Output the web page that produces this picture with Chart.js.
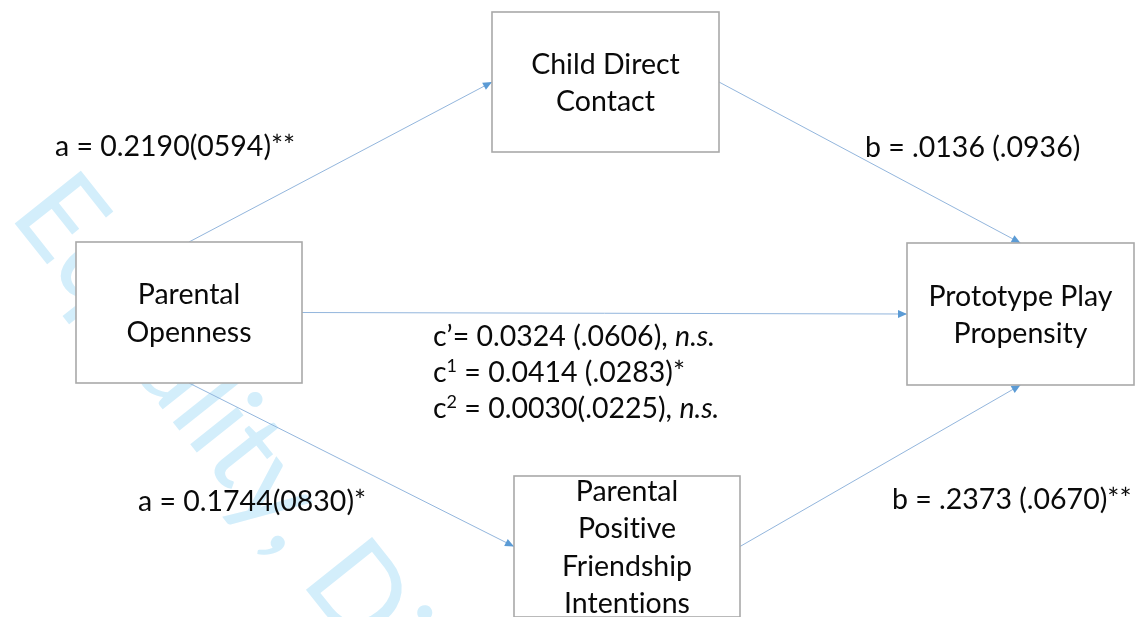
<!DOCTYPE html>
<html>
<head>
<meta charset="utf-8">
<title>Mediation model: Parental Openness and Prototype Play Propensity</title>
<script src="https://cdn.jsdelivr.net/npm/chart.js@4.4.1/dist/chart.umd.min.js"></script>
<style>
  html, body { margin: 0; padding: 0; background: #ffffff; }
  canvas { display: block; }
</style>
</head>
<body>
<canvas id="model" width="1141" height="617"></canvas>
<script>
// ---- Variables of the mediation model ----
const nodeLines = [
  ['Parental', 'Openness'],
  ['Child Direct', 'Contact'],
  ['Prototype Play', 'Propensity'],
  ['Parental', 'Positive', 'Friendship', 'Intentions']
];

// Box extents in diagram units: [left, top, right, bottom]
const nodeBoxes = [
  [76, 242, 302, 383],
  [492, 12, 719, 152],
  [907, 243, 1134, 385],
  [514, 476, 740, 617]
];

// ---- Paths (from -> to) and the box sides they leave / enter ----
const pathFrom  = [0, 1, 0, 0, 3];
const pathTo    = [1, 2, 2, 3, 2];
const exitSide  = ['top', 'right', 'right', 'bottom', 'right'];
const entrySide = ['left', 'top', 'left', 'left', 'bottom'];

// ---- Indirect-path coefficients, estimate (SE) ----
const indirectLabels = [
  'a = 0.2190(0594)**',
  'b = .0136 (.0936)',
  'a = 0.1744(0830)*',
  'b = .2373 (.0670)**'
];
// anchor of each label: [left x, baseline y]
const indirectAnchors = [[55, 156], [865, 157], [138, 511], [892, 509]];

// ---- Direct-effect coefficients c', c1, c2 ----
const directMarks     = ['\u2019', '1', '2'];
const directEstimates = ['0.0324 (.0606)', '0.0414 (.0283)*', '0.0030(.0225)'];
const directSig       = ['n.s.', '', 'n.s.'];
const directAnchor    = [433, 346];
const directLineStep  = 36;

// ---- Styling ----
const FONT = 'Lato, "Open Sans", sans-serif';
const FONT_SIZE = 28.5;
const TEXT_COLOR = '#0a0a0a';
const PATH_COLOR = '#93b6dd';
const HEAD_COLOR = '#5b9bd5';
const BOX_STROKE = '#a9a9a9';
const LINE_STEP = 37.5;

// keep "t" and "i" as separate glyphs (no ligature)
const plain = s => s.replace(/ti/g, 't\u200Ci').replace(/fi/g, 'f\u200Ci');

function sidePoint(box, side) {
  const [l, t, r, b] = box;
  const cx = (l + r) / 2, cy = (t + b) / 2;
  if (side === 'top') return { x: cx, y: t };
  if (side === 'bottom') return { x: cx, y: b };
  if (side === 'left') return { x: l, y: cy };
  return { x: r, y: cy };
}

const pathDatasets = pathFrom.map((f, i) => ({
  type: 'line',
  label: nodeLines[f].join(' ') + ' \u2192 ' + nodeLines[pathTo[i]].join(' '),
  data: [sidePoint(nodeBoxes[f], exitSide[i]), sidePoint(nodeBoxes[pathTo[i]], entrySide[i])],
  borderColor: PATH_COLOR,
  borderWidth: 1,
  pointRadius: 0,
  fill: false,
  tension: 0
}));

// White page with the faint diagonal watermark behind the diagram
const backdrop = {
  id: 'backdrop',
  beforeDraw(chart) {
    const { ctx, scales: { x, y } } = chart;
    ctx.save();
    ctx.fillStyle = '#ffffff';
    ctx.fillRect(0, 0, chart.width, chart.height);
    ctx.translate(x.getPixelForValue(8), y.getPixelForValue(215));
    ctx.rotate(51.5 * Math.PI / 180);
    ctx.fillStyle = '#d3eefb';
    ctx.font = '118px ' + FONT;
    ctx.textBaseline = 'alphabetic';
    ctx.fillText(plain('Equality, Diversity and Inclusion'), 0, 0);
    ctx.restore();
  }
};

// Arrow heads at the end of every path
const arrowHeads = {
  id: 'arrowHeads',
  afterDatasetsDraw(chart) {
    const ctx = chart.ctx;
    chart.data.datasets.forEach((ds, i) => {
      const pts = chart.getDatasetMeta(i).data;
      if (pts.length < 2) return;
      const a = pts[pts.length - 2], b = pts[pts.length - 1];
      const ang = Math.atan2(b.y - a.y, b.x - a.x);
      const len = 9, half = 4;
      ctx.save();
      ctx.translate(b.x, b.y);
      ctx.rotate(ang);
      ctx.beginPath();
      ctx.moveTo(0, 0);
      ctx.lineTo(-len, -half);
      ctx.lineTo(-len, half);
      ctx.closePath();
      ctx.fillStyle = HEAD_COLOR;
      ctx.fill();
      ctx.restore();
    });
  }
};

function drawRich(ctx, x, y, segs) {
  let cx = x;
  segs.forEach(s => {
    const size = s.size || FONT_SIZE;
    ctx.font = (s.italic ? 'italic ' : '') + size + 'px ' + FONT;
    ctx.fillText(s.text, cx, y - (s.rise || 0));
    cx += ctx.measureText(s.text).width;
  });
}

// Variable boxes and all coefficient text
const boxesAndText = {
  id: 'boxesAndText',
  afterDatasetsDraw(chart) {
    const { ctx, scales: { x, y } } = chart;
    ctx.save();
    nodeBoxes.forEach((bx, i) => {
      const l = x.getPixelForValue(bx[0]), t = y.getPixelForValue(bx[1]);
      const r = x.getPixelForValue(bx[2]), b = y.getPixelForValue(bx[3]);
      ctx.fillStyle = '#ffffff';
      ctx.fillRect(l, t, r - l, b - t);
      ctx.strokeStyle = BOX_STROKE;
      ctx.lineWidth = 1.6;
      ctx.strokeRect(l, t, r - l, b - t);
      const lines = nodeLines[i];
      const cx = (l + r) / 2, cy = (t + b) / 2;
      ctx.fillStyle = TEXT_COLOR;
      ctx.font = FONT_SIZE + 'px ' + FONT;
      ctx.textAlign = 'center';
      ctx.textBaseline = 'alphabetic';
      lines.forEach((ln, k) => {
        const by = cy + (k - (lines.length - 1) / 2) * LINE_STEP + 0.37 * FONT_SIZE;
        ctx.fillText(plain(ln), cx, by);
      });
    });

    ctx.textAlign = 'left';
    ctx.textBaseline = 'alphabetic';
    ctx.fillStyle = TEXT_COLOR;
    ctx.font = FONT_SIZE + 'px ' + FONT;
    indirectLabels.forEach((txt, i) => {
      ctx.fillText(txt, x.getPixelForValue(indirectAnchors[i][0]), y.getPixelForValue(indirectAnchors[i][1]));
    });

    directMarks.forEach((m, i) => {
      const px = x.getPixelForValue(directAnchor[0]);
      const py = y.getPixelForValue(directAnchor[1] + i * directLineStep);
      const segs = [{ text: 'c' }];
      if (m === '\u2019') {
        segs.push({ text: m + '= ' });
      } else {
        segs.push({ text: m, size: 18, rise: 10 });
        segs.push({ text: ' = ' });
      }
      segs.push({ text: directEstimates[i] });
      if (directSig[i]) {
        segs.push({ text: ', ' });
        segs.push({ text: directSig[i], italic: true });
      }
      drawRich(ctx, px, py, segs);
    });
    ctx.restore();
  }
};

new Chart(document.getElementById('model'), {
  type: 'scatter',
  data: { datasets: pathDatasets },
  options: {
    responsive: false,
    animation: false,
    devicePixelRatio: 1,
    events: [],
    layout: { padding: 0 },
    plugins: { legend: { display: false }, tooltip: { enabled: false } },
    scales: {
      x: { type: 'linear', min: 0, max: 1141, display: false },
      y: { type: 'linear', min: 0, max: 617, reverse: true, display: false }
    }
  },
  plugins: [backdrop, arrowHeads, boxesAndText]
});
</script>
</body>
</html>
